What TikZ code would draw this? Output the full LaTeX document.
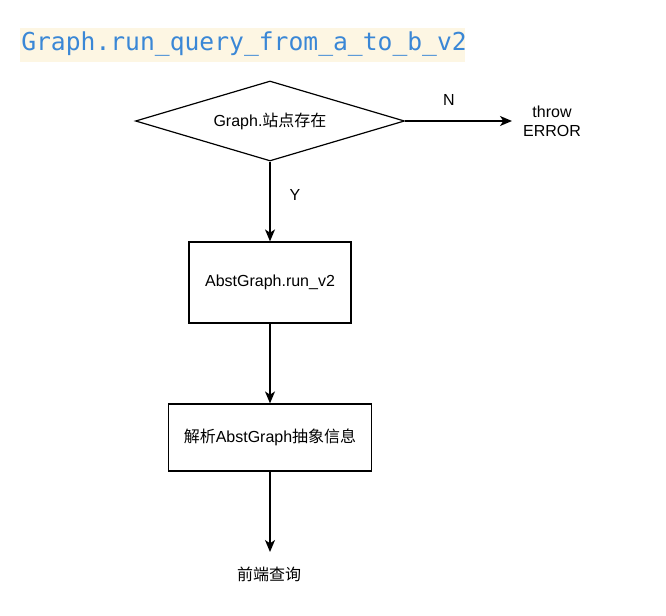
\documentclass[tikz,border=0pt]{standalone}
\usepackage{fontspec}
\setmainfont{Liberation Sans}
\newfontfamily\cjk{Noto Sans CJK SC}
\newfontfamily\titlemono{DejaVu Sans Mono}
\usetikzlibrary{shapes.geometric,arrows.meta}
\definecolor{titleblue}{HTML}{3A87D6}
\definecolor{titlebg}{HTML}{FDF6E3}
\begin{document}
\begin{tikzpicture}[x=0.75pt,y=-0.75pt,
  txt/.style={font=\fontsize{12pt}{14.2pt}\selectfont, align=center, inner sep=0pt},
  boxnode/.style={draw, line width=0.9pt, txt},
  conn/.style={draw, line width=1.1pt, -{Stealth[length=9pt,width=7.5pt,inset=2.5pt]}}]
\useasboundingbox (0,0) rectangle (666,616);
\fill[titlebg] (20,28) rectangle (465,62);
\node[anchor=west, inner sep=0pt, text=titleblue, font=\titlemono\fontsize{18.5pt}{22pt}\selectfont] (title) at (21,44) {Graph.run\_query\_from\_a\_to\_b\_v2};
\node[boxnode, diamond, minimum width=269*0.75pt, minimum height=80*0.75pt, aspect=3.36, inner sep=0pt] (dec) at (270,121) {};
\node[txt] (dect) at (270,121) {Graph.{\cjk 站点存在}};
\node[txt] (err) at (552,121) {throw\\ERROR};
\coordinate (errin) at (512,121);
\node[boxnode, minimum width=162*0.75pt, minimum height=81*0.75pt] (b1) at (270,282.5) {AbstGraph.run\_v2};
\node[boxnode, minimum width=203*0.75pt, minimum height=67*0.75pt] (b2) at (270,437.5) {{\cjk 解析}AbstGraph{\cjk 抽象信息}};
\node[txt] (end) at (269,574) {\cjk 前端查询};
\coordinate (endin) at (270,552);
\draw[conn] (dec.east) -- (errin);
\node[txt] (nlab) at (449,100) {N};
\draw[conn] (dec.south) -- (b1.north);
\node[txt] (ylab) at (295,195) {Y};
\draw[conn] (b1.south) -- (b2.north);
\draw[conn] (b2.south) -- (endin);
\end{tikzpicture}
\end{document}
